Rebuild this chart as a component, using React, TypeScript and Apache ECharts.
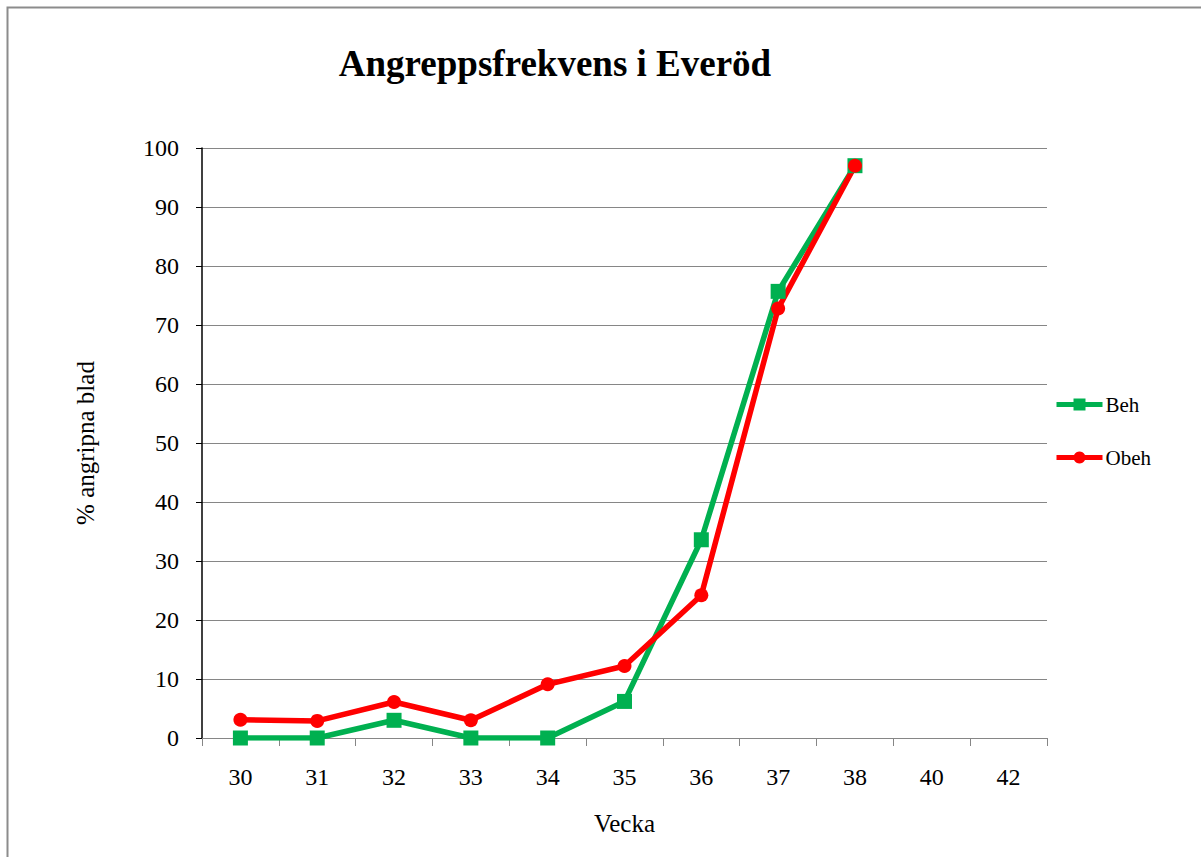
import React, { useEffect, useRef } from "react";
import * as echarts from "echarts";

const weeks = ["30", "31", "32", "33", "34", "35", "36", "37", "38", "40", "42"];
const behValues: (number | null)[] = [0, 0, 3, 0, 0, 6.2, 33.6, 75.7, 97, null, null];
const obehValues: (number | null)[] = [3.1, 2.9, 6.1, 3.0, 9.1, 12.2, 24.2, 72.8, 97, null, null];
const yTicks = { min: 0, max: 100, interval: 10 };

const FONT = "'Liberation Serif', 'Times New Roman', serif";

export default function App() {
  const ref = useRef<HTMLDivElement>(null);
  useEffect(() => {
    if (!ref.current) return;
    const chart = echarts.init(ref.current, undefined, { renderer: "svg" });
    chart.setOption({
      animation: false,
      backgroundColor: "#ffffff",
      textStyle: { fontFamily: FONT },
      title: {
        text: "Angreppsfrekvens i Everöd",
        left: 550,
        textAlign: "center",
        top: 40,
        textStyle: { fontFamily: FONT, fontSize: 37, fontWeight: "bold", color: "#000" },
      },
      graphic: [
        {
          type: "rect",
          shape: { x: 7.5, y: 7.5, width: 1300, height: 1000 },
          style: { fill: "none", stroke: "#8c8c8c", lineWidth: 2 },
          silent: true,
        },
      ],
      legend: {
        orient: "vertical",
        left: 1054,
        top: 394,
        padding: 0,
        itemWidth: 46,
        itemHeight: 15,
        itemGap: 32,
        lineStyle: { width: 5 },
        textStyle: { fontFamily: FONT, fontSize: 21, color: "#000", padding: [0, 0, 0, -2] },
        data: ["Beh", "Obeh"],
      },
      grid: { left: 202, right: 154, top: 148, bottom: 119, containLabel: false },
      xAxis: {
        type: "category",
        data: weeks,
        boundaryGap: true,
        name: "Vecka",
        nameLocation: "middle",
        nameGap: 73,
        nameTextStyle: { fontFamily: FONT, fontSize: 25, color: "#000" },
        axisLine: { show: true, lineStyle: { color: "#868686", width: 1 } },
        axisTick: { show: true, length: 8, lineStyle: { color: "#868686" } },
        axisLabel: { fontFamily: FONT, fontSize: 24, color: "#000", margin: 27 },
        splitLine: { show: false },
      },
      yAxis: {
        type: "value",
        min: yTicks.min,
        max: yTicks.max,
        interval: yTicks.interval,
        name: "% angripna blad",
        nameLocation: "middle",
        nameGap: 104,
        nameRotate: 90,
        nameTextStyle: { fontFamily: FONT, fontSize: 25, color: "#000" },
        axisLine: { show: true, lineStyle: { color: "#000", width: 1.5 } },
        axisTick: { show: true, length: 6, lineStyle: { color: "#000" } },
        axisLabel: { fontFamily: FONT, fontSize: 24, color: "#000", margin: 23 },
        splitLine: { show: true, lineStyle: { color: "#868686", width: 1 } },
      },
      series: [
        {
          name: "Beh",
          type: "line",
          data: behValues,
          symbol: "rect",
          symbolSize: 15,
          itemStyle: { color: "#00B050" },
          lineStyle: { color: "#00B050", width: 5.5 },
          connectNulls: false,
        },
        {
          name: "Obeh",
          type: "line",
          data: obehValues,
          symbol: "circle",
          symbolSize: 14,
          itemStyle: { color: "#FF0000" },
          lineStyle: { color: "#FF0000", width: 5.5 },
          connectNulls: false,
        },
      ],
    });
    return () => chart.dispose();
  }, []);
  return (
    <div
      ref={ref}
      style={{ position: "fixed", left: 0, top: 0, width: 1201, height: 857 }}
    />
  );
}
